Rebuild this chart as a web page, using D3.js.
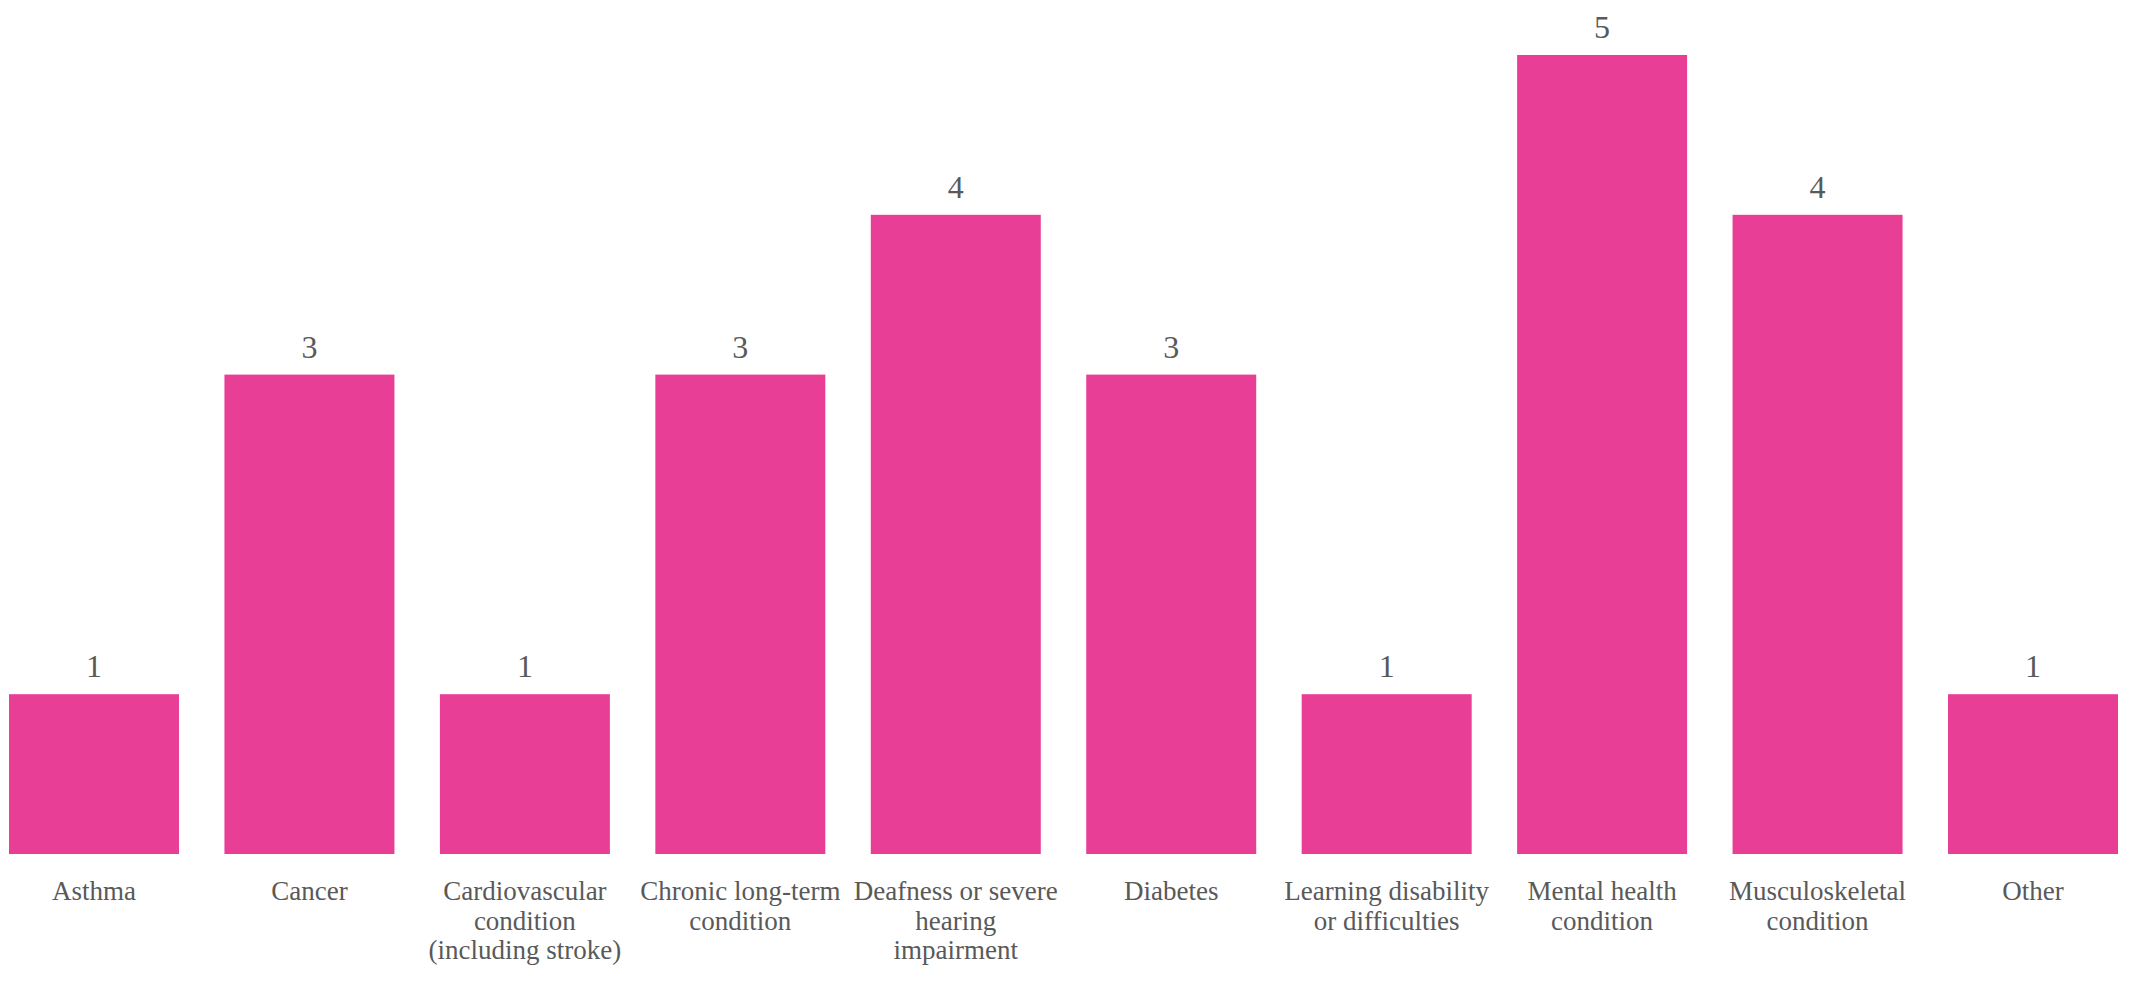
<!DOCTYPE html>
<html>
<head>
<meta charset="utf-8">
<script src="https://cdn.jsdelivr.net/npm/d3@7"></script>
<style>
	html, body { margin: 0; padding: 0; background: #fff; }
	svg { display: block; }
</style>
</head>
<body>
<svg id="chart" width="2130" height="982"></svg>
<script>
// data
var categories = [
	'Asthma',
	'Cancer',
	'Cardiovascular|condition|(including stroke)',
	'Chronic long-term|condition',
	'Deafness or severe|hearing|impairment',
	'Diabetes',
	'Learning disability|or difficulties',
	'Mental health|condition',
	'Musculoskeletal|condition',
	'Other'
];
var counts = [1, 3, 1, 3, 4, 3, 1, 5, 4, 1];
var yMax = 5;

var fontFamily = "'Liberation Serif', 'Times New Roman', Times, serif";
var textColor = '#595959';

var svg = d3.select('#chart');

var data = categories.map(function(c, i) { return { name: c, count: counts[i] }; });

var x = d3.scaleBand()
	.domain(categories)
	.range([9, 2118])
	.paddingInner(0.211)
	.paddingOuter(0);

var y = d3.scaleLinear()
	.domain([0, yMax])
	.range([854, 55]);

// bars
svg.append('g').selectAll('rect')
	.data(data)
	.enter()
	.append('rect')
	.attr('x', function(d) { return x(d.name); })
	.attr('y', function(d) { return y(d.count); })
	.attr('width', x.bandwidth())
	.attr('height', function(d) { return y(0) - y(d.count); })
	.attr('fill', '#e83e96');

// value labels
svg.append('g').selectAll('text')
	.data(data)
	.enter()
	.append('text')
	.style('font-family', fontFamily)
	.style('font-size', '32px')
	.style('fill', textColor)
	.attr('x', function(d) { return x(d.name) + x.bandwidth() / 2; })
	.attr('y', function(d) { return y(d.count) - 17; })
	.attr('text-anchor', 'middle')
	.text(function(d) { return d.count; });

// category labels (bottom axis without line/ticks)
var xAxis = d3.axisBottom(x).tickSize(0).tickFormat('');
var axisG = svg.append('g')
	.attr('transform', 'translate(0,' + y(0) + ')')
	.call(xAxis);
axisG.select('.domain').remove();
axisG.attr('font-family', null);

axisG.selectAll('.tick').each(function(d) {
	var lines = d.split('|');
	var t = d3.select(this).append('text')
		.style('font-family', fontFamily)
		.style('font-size', '27px')
		.style('fill', textColor)
		.attr('text-anchor', 'middle')
		.attr('y', 46);
	lines.forEach(function(line, i) {
		t.append('tspan')
			.attr('x', 0)
			.attr('dy', i == 0 ? 0 : 29.5)
			.text(line);
	});
});
</script>
</body>
</html>
